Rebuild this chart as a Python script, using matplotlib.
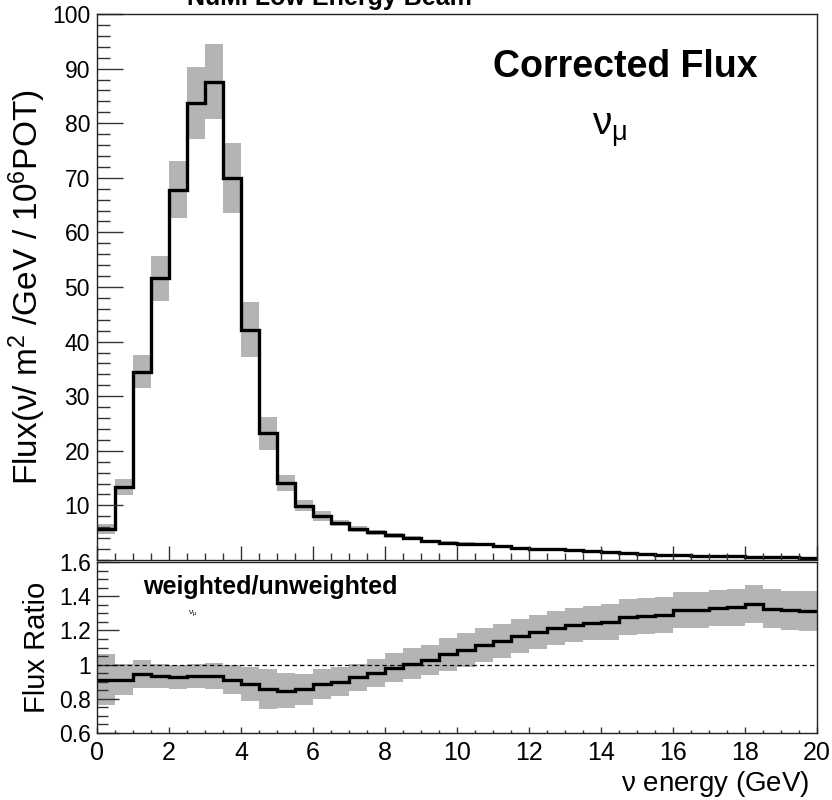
import numpy as np
import matplotlib
matplotlib.use("Agg")
import matplotlib.pyplot as plt
from matplotlib.ticker import MultipleLocator, FixedLocator

plt.rcParams['font.family'] = ['Liberation Sans', 'DejaVu Sans']
plt.rcParams['mathtext.fontset'] = 'custom'
plt.rcParams['mathtext.rm'] = 'Liberation Sans'
plt.rcParams['mathtext.it'] = 'Liberation Sans'

# ---------------- data ----------------
bin_edges = np.linspace(0, 20, 41)   # 0.5 GeV bins

flux = [5.7, 13.3, 34.5, 51.6, 67.8, 83.7, 87.6, 70.0, 42.2, 23.2,
        14.1, 9.9, 8.1, 6.8, 5.7, 5.1, 4.5, 4.0, 3.4, 3.2,
        3.0, 2.9, 2.5, 2.2, 2.0, 1.95, 1.8, 1.6, 1.55, 1.35,
        1.05, 1.0, 0.95, 0.75, 0.72, 0.7, 0.5, 0.48, 0.47, 0.45]
flux_err = [0.9, 1.45, 3.0, 4.1, 5.2, 6.6, 6.9, 6.4, 5.0, 3.0,
            1.55, 1.0, 0.9, 0.6, 0.5, 0.45, 0.4, 0.35, 0.3, 0.3,
            0.28, 0.27, 0.24, 0.22, 0.2, 0.2, 0.19, 0.17, 0.17, 0.15,
            0.12, 0.12, 0.11, 0.09, 0.09, 0.09, 0.07, 0.07, 0.07, 0.07]

ratio = [0.911, 0.911, 0.944, 0.936, 0.926, 0.933, 0.933, 0.911, 0.886, 0.856,
         0.848, 0.856, 0.886, 0.899, 0.926, 0.951, 0.983, 1.005, 1.027, 1.060,
         1.085, 1.115, 1.140, 1.167, 1.192, 1.212, 1.231, 1.245, 1.250, 1.279,
         1.282, 1.289, 1.318, 1.318, 1.332, 1.336, 1.353, 1.328, 1.318, 1.314]
ratio_err = [0.15, 0.09, 0.08, 0.07, 0.07, 0.07, 0.075, 0.085, 0.10, 0.117,
             0.10, 0.09, 0.09, 0.085, 0.08, 0.08, 0.085, 0.09, 0.09, 0.095,
             0.10, 0.10, 0.10, 0.10, 0.10, 0.10, 0.10, 0.10, 0.105, 0.105,
             0.105, 0.105, 0.105, 0.105, 0.105, 0.108, 0.11, 0.112, 0.115, 0.115]

upper_yticks = [10, 20, 30, 40, 50, 60, 70, 80, 90, 100]
lower_yticks = [0.6, 0.8, 1.0, 1.2, 1.4, 1.6]
lower_yticklabels = ["0.6", "0.8", "1", "1.2", "1.4", "1.6"]
xticks = [0, 2, 4, 6, 8, 10, 12, 14, 16, 18, 20]

GRAY = '#b4b4b4'
flux = np.array(flux); flux_err = np.array(flux_err)
ratio = np.array(ratio); ratio_err = np.array(ratio_err)

fig = plt.figure(figsize=(8.32, 8.0), dpi=100)
L, R = 97/832, 817/832
ax1 = fig.add_axes([L, 1-560/800, R-L, (560-14)/800])
ax2 = fig.add_axes([L, 1-733/800, R-L, (733-562)/800])

# upper panel
ax1.stairs(flux + flux_err, bin_edges, baseline=flux - flux_err, fill=True,
           color=GRAY, lw=0)
ax1.stairs(flux, bin_edges, baseline=None, color='black', lw=2.4)
ax1.set_xlim(0, 20)
ax1.set_ylim(0, 100)
ax1.xaxis.set_major_locator(FixedLocator(xticks))
ax1.xaxis.set_minor_locator(MultipleLocator(0.5))
ax1.set_xticklabels([])
ax1.set_yticks(upper_yticks)
ax1.set_yticklabels([str(v) for v in upper_yticks])
ax1.yaxis.set_minor_locator(MultipleLocator(2))
ax1.tick_params(axis='both', which='both', direction='in', top=False, right=False,
                color='#333333', width=1.0)
ax1.tick_params(axis='x', which='major', length=10)
ax1.tick_params(axis='x', which='minor', length=5)
ax1.tick_params(axis='y', which='major', length=18.5, labelsize=16.5, pad=5)
ax1.tick_params(axis='y', which='minor', length=9.3)
ax1.set_ylabel(r"Flux($\nu$/ m$^2$ /GeV / 10$^6$POT)", fontsize=24, labelpad=3)
ax1.text(493/832, 1-77/800, "Corrected Flux", transform=fig.transFigure,
         fontsize=27, fontweight='bold', ha='left', va='baseline')
ax1.text(592/832, 1-136/800, r"$\nu_{\mu}$", transform=fig.transFigure,
         fontsize=28, ha='left', va='baseline',
         family='DejaVu Serif')
fig.text(187/832, 1-5/800, "NuMI Low Energy Beam", fontsize=18,
         fontweight='bold', ha='left', va='baseline')

# lower panel
ax2.stairs(ratio + ratio_err, bin_edges, baseline=ratio - ratio_err, fill=True,
           color=GRAY, lw=0)
ax2.axhline(1.0, color='black', lw=0.9, ls=(0, (3.5, 2.5)))
ax2.stairs(ratio, bin_edges, baseline=None, color='black', lw=2.4)
ax2.set_xlim(0, 20)
ax2.set_ylim(0.6, 1.6)
ax2.xaxis.set_major_locator(FixedLocator(xticks))
ax2.set_xticklabels([str(v) for v in xticks])
ax2.xaxis.set_minor_locator(MultipleLocator(0.5))
ax2.set_yticks(lower_yticks)
ax2.set_yticklabels(lower_yticklabels)
ax2.yaxis.set_minor_locator(MultipleLocator(0.05))
ax2.tick_params(axis='both', which='both', direction='in', top=False, right=False,
                color='#333333', width=1.0)
ax2.tick_params(axis='x', which='major', length=4, labelsize=18, pad=6)
ax2.tick_params(axis='x', which='minor', length=2)
ax2.tick_params(axis='y', which='major', length=16, labelsize=16.5, pad=4)
ax2.tick_params(axis='y', which='minor', length=8)
ax2.set_ylabel("Flux Ratio", fontsize=21, labelpad=6)
ax2.text(0.064, 0.815, "weighted/unweighted", transform=ax2.transAxes,
         fontsize=18, fontweight='bold', ha='left', va='baseline')
ax2.text(0.127, 0.70, r"$\nu_{\mu}$", transform=ax2.transAxes,
         fontsize=6, ha='left', va='baseline')
fig.text(810/832, 1-791/800, r"$\nu$ energy (GeV)", fontsize=20,
         ha='right', va='baseline')

for ax in (ax1, ax2):
    for s in ax.spines.values():
        s.set_linewidth(1.0)
        s.set_color('#222222')

fig.savefig("out.png", dpi=100)
